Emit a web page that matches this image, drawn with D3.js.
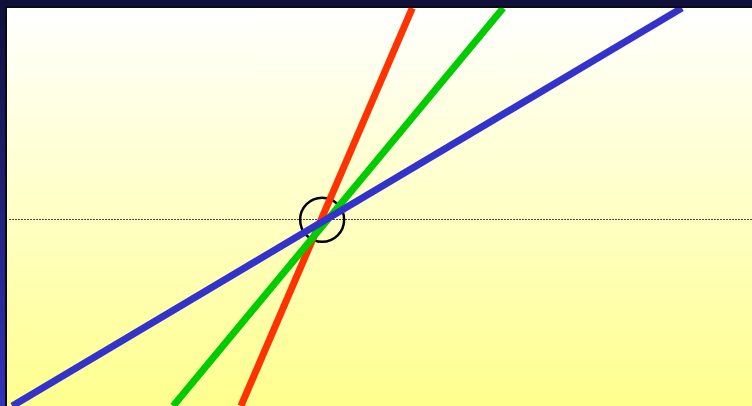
<!DOCTYPE html>
<html>
<head>
<meta charset="utf-8">
<script src="https://cdn.jsdelivr.net/npm/d3@7"></script>
<style>
  html, body { margin: 0; padding: 0; background: #10103a; }
  svg { display: block; }
</style>
</head>
<body>
<div id="chart"></div>
<script>
// Line names and their end points in data units (x: 0-100, y: 0-100)
const lineNames = ['red', 'green', 'blue'];
const lineColors = ['#ff3300', '#00cc00', '#3333cc'];
const lineStarts = [[31.4, 0], [22.3, 0], [0.7, 0]];
const lineEnds = [[54.4, 100], [66.6, 100], [90.6, 100]];

// Marked point and reference level
const markerPoint = [42.3, 46.8];
const referenceLevel = [46.9];

const width = 752, height = 406;
const margin = {top: 8, right: 0, bottom: 0, left: 7};

const svg = d3.select('#chart').append('svg')
    .attr('width', width)
    .attr('height', height);

const defs = svg.append('defs');

// Frame gradient (dark navy to blue down the left side)
const frameGrad = defs.append('linearGradient')
    .attr('id', 'frame-gradient')
    .attr('x1', 0).attr('y1', 0).attr('x2', 0).attr('y2', 1);
frameGrad.append('stop').attr('offset', '0%').attr('stop-color', '#10103a');
frameGrad.append('stop').attr('offset', '100%').attr('stop-color', '#3232bc');

// Plot background gradient (white to pale yellow)
const bgGrad = defs.append('linearGradient')
    .attr('id', 'bg-gradient')
    .attr('x1', 0).attr('y1', 0).attr('x2', 0).attr('y2', 1);
bgGrad.append('stop').attr('offset', '0%').attr('stop-color', '#ffffff');
bgGrad.append('stop').attr('offset', '100%').attr('stop-color', '#ffff8e');

defs.append('clipPath').attr('id', 'plot-clip')
  .append('rect')
    .attr('x', margin.left)
    .attr('y', margin.top)
    .attr('width', width - margin.left - margin.right)
    .attr('height', height - margin.top - margin.bottom);

svg.append('rect')
    .attr('width', width)
    .attr('height', height)
    .attr('fill', 'url(#frame-gradient)');
svg.append('rect')
    .attr('width', width)
    .attr('height', margin.top)
    .attr('fill', '#10103a');

// dark shadow edge around the plot
svg.append('rect')
    .attr('x', margin.left - 2)
    .attr('y', margin.top - 2)
    .attr('width', width)
    .attr('height', height)
    .attr('fill', '#0a0a14');

svg.append('rect')
    .attr('x', margin.left)
    .attr('y', margin.top)
    .attr('width', width - margin.left - margin.right)
    .attr('height', height - margin.top - margin.bottom)
    .attr('fill', 'url(#bg-gradient)');

const x = d3.scaleLinear().domain([0, 100]).range([margin.left, width - margin.right]);
const y = d3.scaleLinear().domain([0, 100]).range([height - margin.bottom, margin.top]);

const plot = svg.append('g').attr('clip-path', 'url(#plot-clip)');

// dotted reference line
plot.selectAll('.ref-line')
    .data(referenceLevel)
  .join('line')
    .attr('class', 'ref-line')
    .attr('x1', x(0) + 2)
    .attr('x2', x(100))
    .attr('y1', d => Math.round(y(d)) + 0.5)
    .attr('y2', d => Math.round(y(d)) + 0.5)
    .attr('stroke', '#4a4a3a')
    .attr('stroke-width', 1)
    .attr('stroke-dasharray', '2,1');

// marker circle
plot.append('circle')
    .attr('cx', x(markerPoint[0]))
    .attr('cy', y(markerPoint[1]))
    .attr('r', 22)
    .attr('fill', 'none')
    .attr('stroke', '#000')
    .attr('stroke-width', 2.5);

const lineData = lineNames.map((name, i) => ({
  name: name,
  color: lineColors[i],
  points: [lineStarts[i], lineEnds[i]]
}));

const lineGen = d3.line().x(d => x(d[0])).y(d => y(d[1]));

plot.selectAll('.trend')
    .data(lineData)
  .join('path')
    .attr('class', 'trend')
    .attr('d', d => lineGen(d.points))
    .attr('fill', 'none')
    .attr('stroke', d => d.color)
    .attr('stroke-width', 7)
    .attr('stroke-linecap', 'butt');
</script>
</body>
</html>
